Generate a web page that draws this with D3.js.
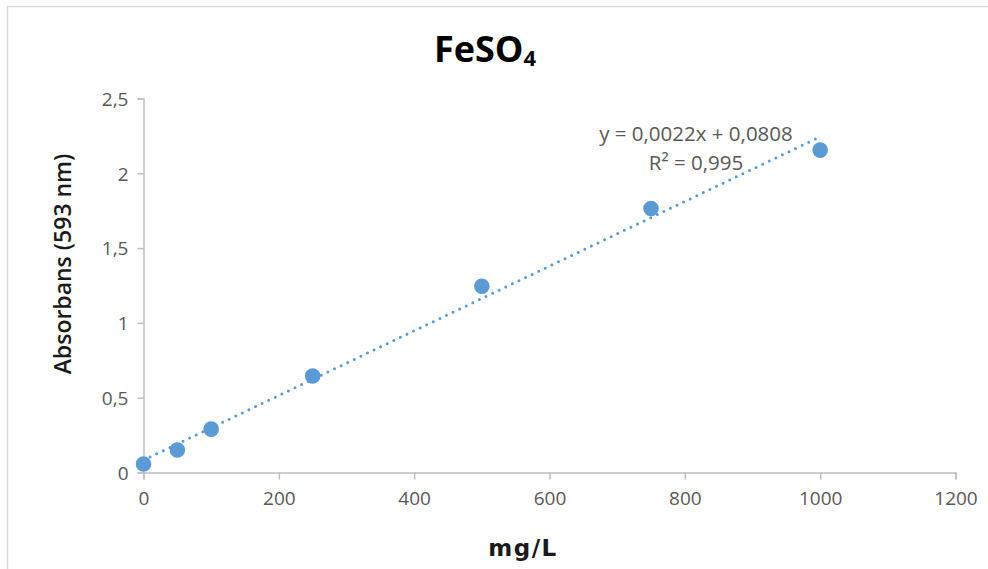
<!DOCTYPE html>
<html>
<head>
<meta charset="utf-8">
<script src="https://cdn.jsdelivr.net/npm/d3@7"></script>
<style>
  body { margin: 0; background: #fff; }
  svg { display: block; }
</style>
</head>
<body>
<div id="chart"></div>
<script>

// data
var concentrations = [0, 50, 100, 250, 500, 750, 1000];
var absorbances = [0.057, 0.15, 0.29, 0.645, 1.245, 1.765, 2.155];
var xTicks = [0, 200, 400, 600, 800, 1000, 1200];
var yTicks = [0, 0.5, 1, 1.5, 2, 2.5];
var equationLines = ['y = 0,0022x + 0,0808', 'R² = 0,995'];

var attrs = {
  width: 988,
  height: 569,
  left: 143.5,
  right: 955.5,
  top: 98.5,
  bottom: 472.5,
  pointColor: '#5b9bd5',
  axisColor: '#bfbfbf',
  labelColor: '#595959',
  font: '"Open Sans", "Liberation Sans", sans-serif'
};

var svg = d3.select('#chart').append('svg')
  .attr('width', attrs.width)
  .attr('height', attrs.height);

// chart frame (only top and left edges are visible in the picture)
svg.append('path')
  .attr('d', 'M7.5,' + attrs.height + 'V6.5H' + attrs.width)
  .attr('fill', 'none')
  .attr('stroke', '#d9d9d9')
  .attr('stroke-width', 1.5);

var x = d3.scaleLinear().domain([0, 1200]).range([attrs.left, attrs.right]);
var y = d3.scaleLinear().domain([0, 2.5]).range([attrs.bottom, attrs.top]);

var comma = function (d) { return String(d).replace('.', ','); };

// x axis
var xAxis = svg.append('g')
  .attr('transform', 'translate(0,' + attrs.bottom + ')')
  .call(d3.axisBottom(x).tickValues(xTicks).tickSize(7).tickPadding(12).tickFormat(comma));

// y axis
var yAxis = svg.append('g')
  .attr('transform', 'translate(' + attrs.left + ',0)')
  .call(d3.axisLeft(y).tickValues(yTicks).tickSize(6).tickPadding(9).tickFormat(comma));

[xAxis, yAxis].forEach(function (axis) {
  axis.select('.domain').attr('stroke', attrs.axisColor).attr('stroke-width', 1.5);
  axis.selectAll('.tick line').attr('stroke', attrs.axisColor).attr('stroke-width', 1.5);
  axis.selectAll('.tick text')
    .attr('fill', attrs.labelColor)
    .style('font-family', attrs.font)
    .style('font-size', '19px');
});
yAxis.selectAll('.tick text').attr('dy', '0.36em');

// least squares trendline
var mx = d3.mean(concentrations);
var my = d3.mean(absorbances);
var sxy = d3.sum(concentrations, function (c, i) { return (c - mx) * (absorbances[i] - my); });
var sxx = d3.sum(concentrations, function (c) { return (c - mx) * (c - mx); });
var slope = sxy / sxx;
var intercept = my - slope * mx;
var lineEnds = [0, 1000];

svg.append('path')
  .datum(lineEnds)
  .attr('d', d3.line()
    .x(function (d) { return x(d); })
    .y(function (d) { return y(slope * d + intercept); }))
  .attr('fill', 'none')
  .attr('stroke', attrs.pointColor)
  .attr('stroke-width', 3)
  .attr('stroke-linecap', 'round')
  .attr('stroke-dasharray', '0 7.3');

// points
svg.append('g').selectAll('circle')
  .data(concentrations)
  .enter().append('circle')
  .attr('cx', function (d) { return x(d); })
  .attr('cy', function (d, i) { return y(absorbances[i]); })
  .attr('r', 7.8)
  .attr('fill', attrs.pointColor);

// equation label
svg.append('g').selectAll('text')
  .data(equationLines)
  .enter().append('text')
  .attr('x', 696)
  .attr('y', function (d, i) { return 141 + i * 29; })
  .attr('text-anchor', 'middle')
  .attr('fill', attrs.labelColor)
  .style('font-family', attrs.font)
  .style('font-size', '20.5px')
  .text(function (d) { return d; });

// title
var title = svg.append('text')
  .attr('x', 485)
  .attr('y', 62)
  .attr('text-anchor', 'middle')
  .attr('fill', '#000')
  .style('font-family', attrs.font)
  .style('font-weight', 'bold')
  .style('font-size', '36px');
title.append('tspan').text('FeSO');
title.append('tspan').attr('dy', 4).style('font-size', '22px').text('4');

// axis titles
svg.append('text')
  .attr('transform', 'translate(71,264) rotate(-90)')
  .attr('text-anchor', 'middle')
  .attr('fill', '#1a1a1a')
  .style('font-family', attrs.font)
  .style('font-weight', 600)
  .style('font-size', '23px')
  .text('Absorbans (593 nm)');

svg.append('text')
  .attr('x', 523)
  .attr('y', 556)
  .attr('text-anchor', 'middle')
  .attr('fill', '#1a1a1a')
  .style('font-family', '"DejaVu Sans", sans-serif')
  .style('font-weight', 'bold')
  .style('font-size', '23px')
  .style('letter-spacing', '1.5px')
  .text('mg/L');

</script>
</body>
</html>
